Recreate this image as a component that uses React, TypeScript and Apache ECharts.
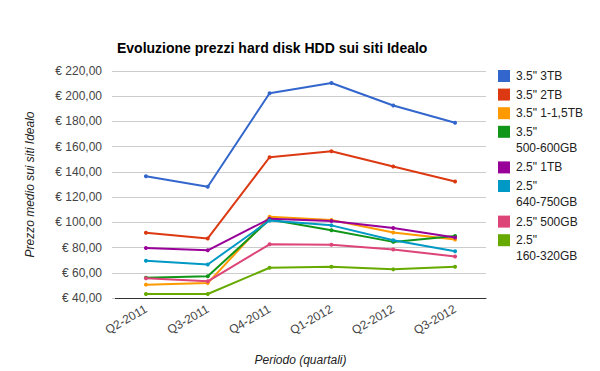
import React, { useEffect, useRef } from "react";
import * as echarts from "echarts";

const categories = ["Q2-2011", "Q3-2011", "Q4-2011", "Q1-2012", "Q2-2012", "Q3-2012"];

const seriesNames = [
  '3.5" 3TB',
  '3.5" 2TB',
  '3.5" 1-1,5TB',
  '3.5" 500-600GB',
  '2.5" 1TB',
  '2.5" 640-750GB',
  '2.5" 500GB',
  '2.5" 160-320GB',
];

const legendLabels = [
  '3.5" 3TB',
  '3.5" 2TB',
  '3.5" 1-1,5TB',
  '3.5"\n500-600GB',
  '2.5" 1TB',
  '2.5"\n640-750GB',
  '2.5" 500GB',
  '2.5"\n160-320GB',
];

const hdd35_3TB = [136.6, 128.2, 202.4, 210.5, 192.6, 179.0];
const hdd35_2TB = [91.8, 87.2, 151.6, 156.3, 144.2, 132.4];
const hdd35_1TB = [50.6, 51.8, 104.5, 101.8, 92.0, 86.3];
const hdd35_500GB = [56.0, 57.2, 102.2, 93.7, 84.5, 89.2];
const hdd25_1TB = [79.6, 77.8, 102.8, 101.0, 95.5, 88.0];
const hdd25_640GB = [69.5, 66.6, 101.5, 97.6, 85.8, 77.0];
const hdd25_500GB = [55.6, 53.2, 82.6, 82.2, 78.5, 72.9];
const hdd25_160GB = [43.2, 43.2, 64.0, 64.7, 62.7, 64.7];

const seriesValues = [
  hdd35_3TB,
  hdd35_2TB,
  hdd35_1TB,
  hdd35_500GB,
  hdd25_1TB,
  hdd25_640GB,
  hdd25_500GB,
  hdd25_160GB,
];

const colors = ["#3366cc", "#dc3912", "#ff9900", "#109618", "#990099", "#0099c6", "#dd4477", "#66aa00"];

const yMin = 40;
const yMax = 220;
const yStep = 20;

const FONT = "'Liberation Sans', Arial, sans-serif";

export default function App() {
  const ref = useRef<HTMLDivElement>(null);

  useEffect(() => {
    if (!ref.current) return;
    const chart = echarts.init(ref.current, undefined, { renderer: "svg" });

    const legendItems: any[] = [];
    let iconTop = 70;
    legendLabels.forEach((label, i) => {
      const lines = label.split("\n").length;
      legendItems.push({
        type: "rect",
        shape: { x: 498, y: iconTop, width: 12, height: 12 },
        style: { fill: colors[i] },
        silent: true,
      });
      legendItems.push({
        type: "text",
        x: 516,
        y: iconTop - 2,
        style: {
          text: label,
          fontFamily: FONT,
          fontSize: 12,
          lineHeight: 16,
          fill: "#222",
          verticalAlign: "top",
          align: "left",
        },
        silent: true,
      });
      iconTop += 18.6 + (lines - 1) * 17;
    });

    chart.setOption({
      animation: false,
      color: colors,
      title: {
        text: "Evoluzione prezzi hard disk HDD sui siti Idealo",
        left: 112,
        top: 36,
        textStyle: { fontFamily: FONT, fontSize: 14, fontWeight: "bold", color: "#000" },
      },
      graphic: legendItems,
      grid: { left: 115, right: 114, top: 71, bottom: 72, containLabel: false },
      xAxis: {
        type: "category",
        data: categories,
        boundaryGap: true,
        name: "Periodo (quartali)",
        nameLocation: "middle",
        nameGap: 56,
        nameTextStyle: { fontFamily: FONT, fontSize: 12, fontStyle: "italic", color: "#222" },
        axisLine: { lineStyle: { color: "#333", width: 1 } },
        axisTick: { show: false },
        axisLabel: {
          rotate: 30,
          margin: 10,
          fontFamily: FONT,
          fontSize: 12,
          color: "#444",
        },
      },
      yAxis: {
        type: "value",
        min: yMin,
        max: yMax,
        interval: yStep,
        name: "Prezzo medio sui siti Idealo",
        nameLocation: "middle",
        nameGap: 79,
        nameRotate: 90,
        nameTextStyle: { fontFamily: FONT, fontSize: 12, fontStyle: "italic", color: "#222" },
        axisLine: { show: false },
        axisTick: { show: true, length: 3, lineStyle: { color: "#cccccc" } },
        splitLine: { lineStyle: { color: "#cccccc", width: 1 } },
        axisLabel: {
          margin: 13,
          fontFamily: FONT,
          fontSize: 12,
          color: "#444",
          formatter: (v: number) => "€ " + v.toFixed(2).replace(".", ","),
        },
      },
      series: seriesNames.map((name, i) => ({
        name,
        type: "line",
        data: seriesValues[i],
        symbol: "circle",
        symbolSize: 4,
        showSymbol: true,
        lineStyle: { width: 2 },
        itemStyle: { color: colors[i] },
      })),
    });

    return () => chart.dispose();
  }, []);

  return <div ref={ref} style={{ width: 600, height: 371, position: "absolute", left: 0, top: 0 }} />;
}
